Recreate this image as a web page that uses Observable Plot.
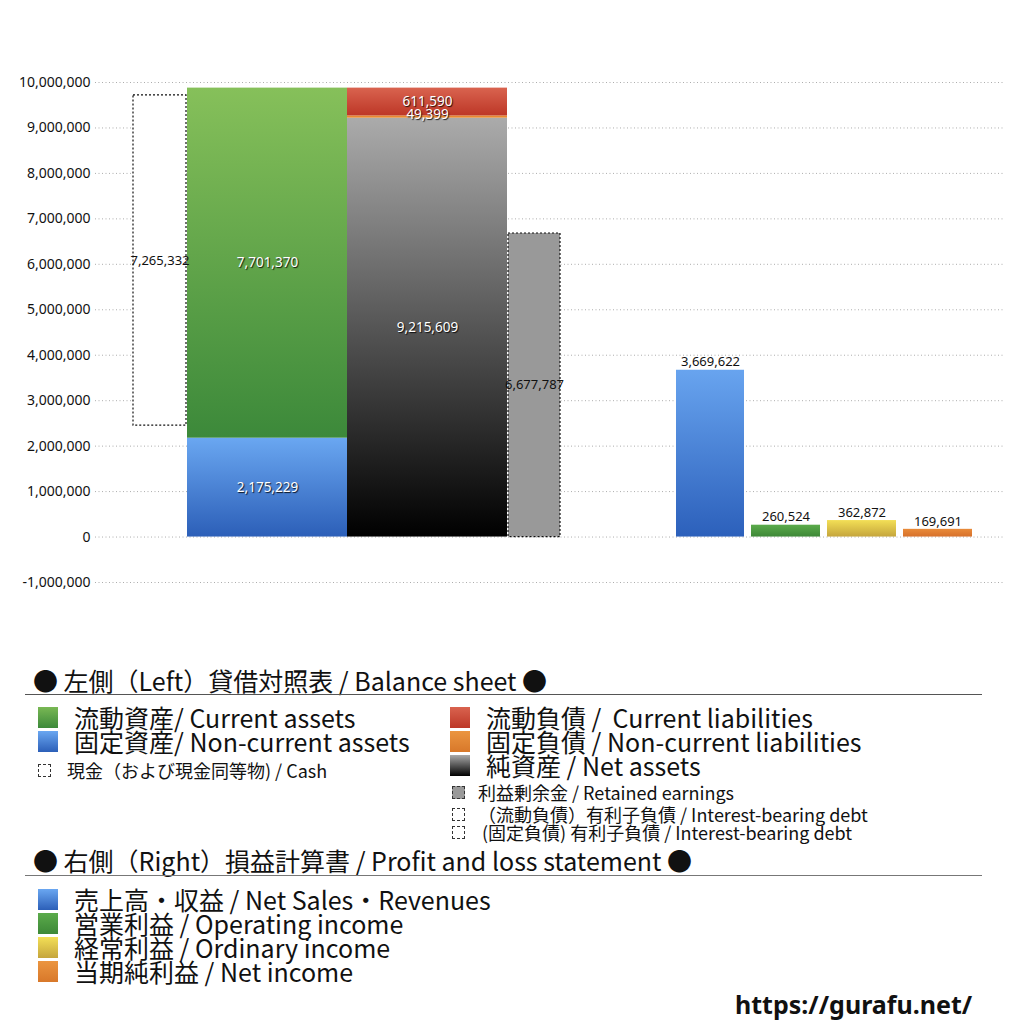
<!DOCTYPE html>
<html><head><meta charset="utf-8">
<script src="https://cdn.jsdelivr.net/npm/d3@7"></script>
<script src="https://cdn.jsdelivr.net/npm/@observablehq/plot@0.6"></script>
<style>
body{margin:0;background:#fff;}
#wrap{position:relative;width:1024px;height:1024px;font-family:"Noto Sans CJK JP","Noto Sans",sans-serif;color:#111;overflow:hidden;}
#wrap svg{position:absolute;left:0;top:0;}
.lg{position:absolute;white-space:nowrap;display:flex;align-items:center;line-height:1;}
.sw{display:inline-block;flex:none;}
.rule{position:absolute;left:25px;width:957px;}
g[fill="white"] text{text-shadow:1px 1px 1px rgba(0,0,0,.85);}
</style></head><body><div id="wrap"></div>
<script>
// ---- data ----
const assetNames = ["固定資産 / Non-current assets", "流動資産 / Current assets"];
const assetValues = [2175229, 7701370];
const liabNames = ["純資産 / Net assets", "固定負債 / Non-current liabilities", "流動負債 / Current liabilities"];
const liabValues = [9215609, 49399, 611590];
const cashValue = 7265332;
const cashBase = 2450000; // estimated bottom of the cash box
const retainedValue = 6677787;
const plNames = ["売上高・収益", "営業利益", "経常利益", "当期純利益"];
const plValues = [3669622, 260524, 362872, 169691];
const yTicks = [-1000000, 0, 1000000, 2000000, 3000000, 4000000, 5000000, 6000000, 7000000, 8000000, 9000000, 10000000];

// ---- layout (x in pixel-like units of the plot frame) ----
const slotCash = [38, 91], slotAssets = [92, 252], slotLiab = [252, 412], slotRet = [413, 465];
const plSlots = [[581, 649], [656, 725], [732, 801], [808, 877]];
const assetFills = ["url(#gBlue)", "url(#gGreen)"];
const liabFills = ["url(#gBlack)", "#e8892f", "url(#gRed)"];
const plFills = ["url(#gBlue2)", "url(#gOp)", "url(#gOrd)", "url(#gNet)"];

function stack(values, names, slot, fills) {
  let acc = 0;
  return values.map((v, i) => {
    const r = {name: names[i], v, y1: acc, y2: acc + v, x1: slot[0], x2: slot[1], fill: fills[i]};
    acc += v; return r;
  });
}
const assets = stack(assetValues, assetNames, slotAssets, assetFills);
const liabs = stack(liabValues, liabNames, slotLiab, liabFills);
const pl = plValues.map((v, i) => ({name: plNames[i], v, x1: plSlots[i][0], x2: plSlots[i][1], fill: plFills[i]}));
const cash = [{v: cashValue, y1: cashBase, y2: cashBase + cashValue, x1: slotCash[0], x2: slotCash[1]}];
const retained = [{v: retainedValue, y1: 0, y2: retainedValue, x1: slotRet[0], x2: slotRet[1]}];
const fmt = d => d3.format(",")(d).replace("\u2212", "-");
const mid = d => (d.x1 + d.x2) / 2;
const ymid = d => (d.y1 + d.y2) / 2;

const svg = Plot.plot({
  width: 1024, height: 620,
  marginLeft: 95, marginRight: 19, marginTop: 82, marginBottom: 38,
  style: {fontFamily: "'Noto Sans', sans-serif", background: "transparent"},
  x: {domain: [0, 910], axis: null},
  y: {domain: [-1000000, 10000000], axis: null},
  marks: [
    Plot.gridY(yTicks, {stroke: "#999", strokeOpacity: 0.8, strokeDasharray: "1,2.5"}),
    Plot.axisY(yTicks, {tickSize: 0, tickPadding: 5, tickFormat: fmt, fontSize: 14, fill: "#111"}),
    Plot.rect(cash, {x1: "x1", x2: "x2", y1: "y1", y2: "y2", fill: "white", stroke: "#111", strokeDasharray: "2,2", strokeWidth: 1.2}),
    Plot.rect(assets, {x1: "x1", x2: "x2", y1: "y1", y2: "y2", fill: d => d.fill}),
    Plot.rect(liabs, {x1: "x1", x2: "x2", y1: "y1", y2: "y2", fill: d => d.fill}),
    Plot.rect(retained, {x1: "x1", x2: "x2", y1: "y1", y2: "y2", fill: "#999", stroke: "#111", strokeDasharray: "2,2", strokeWidth: 1.2}),
    Plot.rect(pl, {x1: "x1", x2: "x2", y1: 0, y2: "v", fill: d => d.fill}),
    Plot.text(cash, {x: mid, y: ymid, text: d => fmt(d.v), fill: "#111", fontSize: 13}),
    Plot.text(retained, {x: mid, y: ymid, text: d => fmt(d.v), fill: "#111", fontSize: 13}),
    Plot.text(assets, {x: mid, y: ymid, text: d => fmt(d.v), fill: "white", fontSize: 13.5}),
    Plot.text(liabs, {x: mid, y: ymid, text: d => fmt(d.v), fill: "white", fontSize: 13.5}),
    Plot.text(pl, {x: mid, y: "v", text: d => fmt(d.v), fill: "#111", fontSize: 13, dy: -8})
  ]
});

// gradients
const defs = d3.select(svg).insert("defs", ":first-child");
function grad(id, top, bottom) {
  const g = defs.append("linearGradient").attr("id", id).attr("x1", 0).attr("y1", 0).attr("x2", 0).attr("y2", 1);
  g.append("stop").attr("offset", 0).attr("stop-color", top);
  g.append("stop").attr("offset", 1).attr("stop-color", bottom);
}
grad("gGreen", "#86c05a", "#3c893a");
grad("gBlue", "#6aa7f1", "#2c5fb8");
grad("gBlue2", "#68a4ef", "#2c60bb");
grad("gBlack", "#ababab", "#000000");
grad("gRed", "#d9634f", "#bd3727");
grad("gOp", "#5bab4b", "#3d8837");
grad("gOrd", "#f3df56", "#c5a53c");
grad("gNet", "#e98b3a", "#d7712b");

// nudge the overlapping small liability label up a bit like the reference
d3.select(svg).selectAll('g[fill="white"] text').each(function() {
  const t = d3.select(this);
  if (t.text() === fmt(liabValues[1])) t.attr("dy", "-0.2em");
});

const wrap = document.getElementById("wrap");
wrap.appendChild(svg);

// ---- legend (HTML) ----
function sw(css) { return `<span class="sw" style="${css}"></span>`; }
const grads = {
  green: "linear-gradient(#79b854,#3c893a)", blue: "linear-gradient(#6aa7f1,#2c5fb8)",
  red: "linear-gradient(#d9634f,#bd3727)", orange: "linear-gradient(#eb9540,#d8782a)",
  black: "linear-gradient(#aaa,#000)", yellow: "linear-gradient(#f3df56,#c5a53c)",
  op: "linear-gradient(#5bab4b,#3d8837)"
};
function item(x, yc, size, marker, gap, text, extra) {
  const d = document.createElement("div");
  d.className = "lg";
  const h = Math.min(size, 22);
  d.style.left = x + "px"; d.style.top = (yc - h / 2) + "px";
  d.style.height = h + "px"; d.style.fontSize = size + "px";
  d.innerHTML = marker + `<span style="margin-left:${gap}px;${extra || ""}">${text}</span>`;
  wrap.appendChild(d);
}
const big = c => sw(`width:20px;height:21px;background:${c};`);
const dashBox = sw("width:13px;height:13px;border:1px dashed #333;box-sizing:border-box;");
const grayBox = sw("width:13px;height:13px;border:1px dashed #333;background:#999;box-sizing:border-box;");

item(33, 680, 25, "", 0, "● 左側（Left）貸借対照表 / Balance sheet ●");
const r1 = document.createElement("div"); r1.className = "rule";
r1.style.top = "694px"; r1.style.borderTop = "1.2px solid #555"; wrap.appendChild(r1);

item(38, 717, 25, big(grads.green), 16, "流動資産/ Current assets");
item(38, 741, 25, big(grads.blue), 16, "固定資産/ Non-current assets");
item(38, 770, 18, dashBox, 16, "現金（および現金同等物) / Cash");
item(450, 717, 25, big(grads.red), 16, "流動負債 /&nbsp; Current liabilities");
item(450, 741, 25, big(grads.orange), 16, "固定負債 / Non-current liabilities");
item(450, 765, 25, big(grads.black), 16, "純資産 / Net assets");
item(452, 792, 18, grayBox, 13, "利益剰余金 / Retained earnings");
item(452, 814, 18, dashBox, 13, "（流動負債）有利子負債 / Interest-bearing debt");
item(452, 832, 18, dashBox, 13, "&nbsp;(固定負債) 有利子負債 / Interest-bearing debt");

item(33, 860, 25, "", 0, "● 右側（Right）損益計算書 / Profit and loss statement ●");
const r2 = document.createElement("div"); r2.className = "rule";
r2.style.top = "875px"; r2.style.borderTop = "1.5px solid #777"; wrap.appendChild(r2);

item(38, 899, 25, big(grads.blue), 16, "売上高・収益 / Net Sales・Revenues");
item(38, 923, 25, big(grads.op), 16, "営業利益 / Operating income");
item(38, 947, 25, big(grads.yellow), 16, "経常利益 / Ordinary income");
item(38, 971, 25, big(grads.orange), 16, "当期純利益 / Net income");

const url = document.createElement("div");
url.className = "lg"; url.style.left = "735px"; url.style.top = "992px"; url.style.height = "24px";
url.style.fontSize = "25px"; url.style.fontWeight = "bold"; url.style.fontFamily = "'Noto Sans', sans-serif";
url.textContent = "https://gurafu.net/";
wrap.appendChild(url);
</script></body></html>
